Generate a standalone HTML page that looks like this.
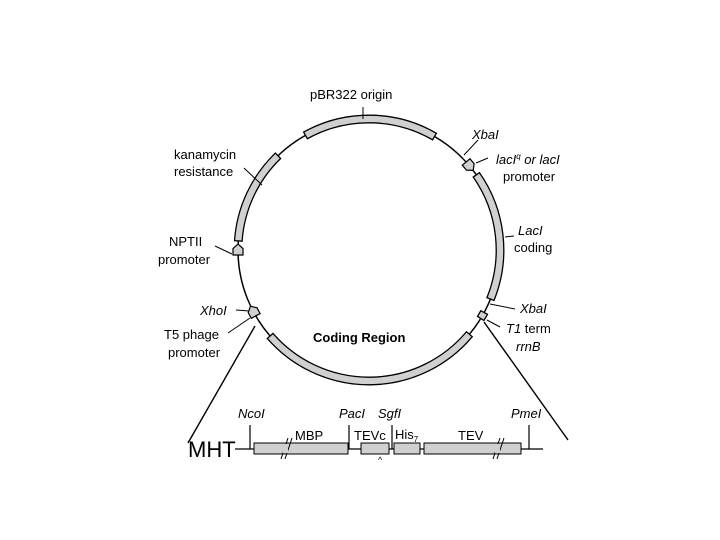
<!DOCTYPE html>
<html><head><meta charset="utf-8"><style>
html,body{margin:0;padding:0;background:#fff;}
svg{display:block;font-family:"Liberation Sans",Arial,sans-serif;}
</style></head><body>
<svg id="s" width="720" height="540" viewBox="0 0 720 540">
<rect width="720" height="540" fill="#fff"/>
<circle cx="369" cy="250" r="131" fill="none" stroke="#000" stroke-width="1.5"/>
<g id="arcs"></g>
<g stroke="#000" stroke-width="1" fill="none">
<line x1="363" y1="119" x2="363" y2="107"/>
<line x1="262" y1="185" x2="244" y2="168"/>
<line x1="464" y1="155" x2="478" y2="140"/>
<line x1="476" y1="163" x2="488" y2="158"/>
<line x1="505" y1="237" x2="514" y2="236"/>
<line x1="490" y1="304" x2="515" y2="309"/>
<line x1="487" y1="320" x2="500" y2="327"/>
<line x1="232" y1="254" x2="215" y2="246"/>
<line x1="236" y1="310" x2="249" y2="311"/>
<line x1="250" y1="318" x2="228" y2="333"/>
<line x1="255" y1="326" x2="188" y2="443" stroke-width="1.4"/>
<line x1="484" y1="322" x2="568" y2="440" stroke-width="1.4"/>
</g>
<g font-size="13" fill="#000">
<text x="310" y="99">pBR322 origin</text>
<text x="174" y="159">kanamycin</text>
<text x="174" y="176">resistance</text>
<text x="472" y="139" font-style="italic">XbaI</text>
<text x="496" y="164" font-style="italic">lacI<tspan font-size="8" dy="-5">q</tspan><tspan dy="5"> or lacI</tspan></text>
<text x="503" y="181">promoter</text>
<text x="518" y="235" font-style="italic">LacI</text>
<text x="514" y="252">coding</text>
<text x="520" y="313" font-style="italic">XbaI</text>
<text x="506" y="333"><tspan font-style="italic">T1</tspan> term</text>
<text x="516" y="351" font-style="italic">rrnB</text>
<text x="169" y="246">NPTII</text>
<text x="158" y="264">promoter</text>
<text x="200" y="315" font-style="italic">XhoI</text>
<text x="164" y="339">T5 phage</text>
<text x="168" y="357">promoter</text>
<text x="313" y="342" font-weight="bold">Coding Region</text>
</g>
<g stroke="#000" stroke-width="1.2" fill="none">
<line x1="235" y1="449" x2="543" y2="449"/>
<line x1="250" y1="425" x2="250" y2="449"/>
<line x1="349" y1="425" x2="349" y2="449"/>
<line x1="392" y1="425" x2="392" y2="449"/>
<line x1="529" y1="425" x2="529" y2="449"/>
</g>
<g fill="#d0d0d0" stroke="#000" stroke-width="1">
<rect x="254" y="443" width="94" height="11"/>
<rect x="361" y="443" width="28" height="11"/>
<rect x="394" y="443" width="26" height="11"/>
<rect x="424" y="443" width="97" height="11"/>
</g>
<g stroke="#000" stroke-width="1">
<line x1="281" y1="459" x2="288" y2="438"/><line x1="285" y1="459" x2="292" y2="438"/>
<line x1="493" y1="459" x2="500" y2="438"/><line x1="497" y1="459" x2="504" y2="438"/>
</g>
<rect x="283" y="444" width="5" height="9" fill="#d0d0d0"/>
<rect x="495" y="444" width="5" height="9" fill="#d0d0d0"/>
<g font-size="13">
<text x="238" y="418" font-style="italic">NcoI</text>
<text x="339" y="418" font-style="italic">PacI</text>
<text x="378" y="418" font-style="italic">SgfI</text>
<text x="511" y="418" font-style="italic">PmeI</text>
<text x="295" y="440">MBP</text>
<text x="354" y="440">TEVc</text>
<text x="395" y="439">His<tspan font-size="8" dy="3">7</tspan></text>
<text x="458" y="440">TEV</text>
<text x="378" y="463" font-size="9">^</text>
</g>
<text x="188" y="457" font-size="22">MHT</text>
</svg>
<script>
var cx=369,cy=250,r=131,g=document.getElementById('arcs');
function P(a,rr){a=a*Math.PI/180;return [cx+rr*Math.cos(a),cy+rr*Math.sin(a)];}
function band(a1,a2){var ro=r+3.8,ri=r-3.8,p1=P(a1,ro),p2=P(a2,ro),p3=P(a2,ri),p4=P(a1,ri);
var lg=(a2-a1)>180?1:0;
var d='M'+p1+' A'+ro+','+ro+' 0 '+lg+' 1 '+p2+' L'+p3+' A'+ri+','+ri+' 0 '+lg+' 0 '+p4+' Z';
var e=document.createElementNS('http://www.w3.org/2000/svg','path');e.setAttribute('d',d);
e.setAttribute('fill','#d0d0d0');e.setAttribute('stroke','#000');e.setAttribute('stroke-width','1.3');g.appendChild(e);}
band(241,300);band(184,226);band(325,382);band(40,139);
band(28.5,31.5);
function pent(a){var c=P(a,r);var e=document.createElementNS('http://www.w3.org/2000/svg','polygon');
var t=a*Math.PI/180,tx=-Math.sin(t),ty=Math.cos(t),nx=Math.cos(t),ny=Math.sin(t),s=5;
var pts=[[c[0]+nx*s-tx*s,c[1]+ny*s-ty*s],[c[0]+nx*s+tx*s*0.3,c[1]+ny*s+ty*s*0.3],[c[0]+tx*s*1.2,c[1]+ty*s*1.2],[c[0]-nx*s+tx*s*0.3,c[1]-ny*s+ty*s*0.3],[c[0]-nx*s-tx*s,c[1]-ny*s-ty*s]];
e.setAttribute('points',pts.map(function(p){return p.join(',')}).join(' '));
e.setAttribute('fill','#d0d0d0');e.setAttribute('stroke','#000');e.setAttribute('stroke-width','1.2');g.appendChild(e);}
pent(180);pent(152);pent(320);
</script>
</body></html>
